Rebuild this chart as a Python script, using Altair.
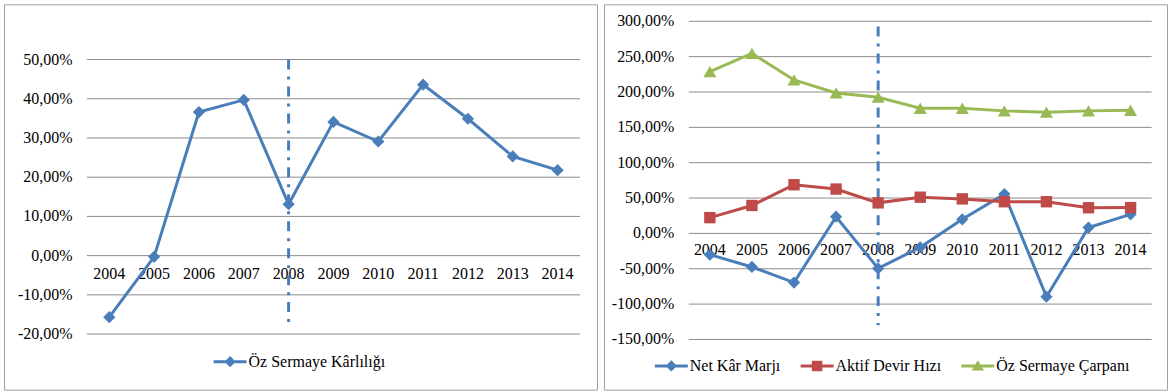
import altair as alt
import pandas as pd

years = list(range(2004, 2015))

# Left panel
oz_karlilik = [-15.7, -0.3, 36.6, 39.7, 13.1, 34.1, 29.1, 43.6, 34.9, 25.3, 21.8]

# Right panel
net_kar_marji = [-30.1, -47.5, -69.5, 23.6, -49.5, -19.7, 20.0, 55.6, -89.5, 8.3, 27.0]
aktif_devir = [22.3, 39.5, 68.8, 62.7, 43.2, 51.2, 48.8, 44.8, 44.8, 36.3, 36.5]
oz_carpan = [228.8, 254.7, 217.0, 198.7, 192.6, 177.0, 177.0, 173.3, 171.4, 173.3, 174.2]

left_ticks = [-20, -10, 0, 10, 20, 30, 40, 50]
right_ticks = [-150, -100, -50, 0, 50, 100, 150, 200, 250, 300]

FONT = "Liberation Serif"
BLUE = "#4A7EBB"
RED = "#BE4B48"
GREEN = "#98B954"
GRID = "#8C8C8C"

LINE_PATH = "M-1,-0.09L1,-0.09L1,0.09L-1,0.09Z"
P_DIAMOND = LINE_PATH + "M0,-0.34L0.34,0L0,0.34L-0.34,0Z"
P_SQUARE = LINE_PATH + "M-0.32,-0.32L0.32,-0.32L0.32,0.32L-0.32,0.32Z"
P_TRI = LINE_PATH + "M0,-0.34L0.38,0.28L-0.38,0.28Z"


def fmt(v):
    return f"{v:.2f}".replace(".", ",") + "%"


def make_panel(series, yticks, ydomain, yrange, xrange, ylab_x, xlab_dy, dash, W, H, lx, ly):
    x = alt.X("year:Q", scale=alt.Scale(domain=[2003.5, 2014.5], range=xrange, nice=False, zero=False), axis=None)
    yscale = alt.Scale(domain=ydomain, range=yrange, nice=False, zero=False)

    grid_df = pd.DataFrame({"v": yticks, "label": [fmt(v) for v in yticks]})
    grid = alt.Chart(grid_df).mark_rule(color=GRID, strokeWidth=1).encode(
        y=alt.Y("v:Q", scale=yscale, axis=None),
        x=alt.value(xrange[0]), x2=alt.value(xrange[1]))
    ylabels = alt.Chart(grid_df).mark_text(
        align="right", baseline="middle", font=FONT, fontSize=16, color="black").encode(
        y=alt.Y("v:Q", scale=yscale, axis=None), x=alt.value(ylab_x), text="label:N")

    xl_df = pd.DataFrame({"year": years, "zero": [0] * len(years), "label": [str(y) for y in years]})
    xlabels = alt.Chart(xl_df).mark_text(
        align="center", baseline="middle", dy=xlab_dy, font=FONT, fontSize=16, color="black").encode(
        x=x, y=alt.Y("zero:Q", scale=yscale, axis=None), text="label:N")

    dash_df = pd.DataFrame({"year": [2008], "top": [dash[0]], "bottom": [dash[1]]})
    dashrule = alt.Chart(dash_df).mark_rule(color=BLUE, strokeWidth=3, strokeDash=[10, 7, 3, 7]).encode(
        x=x, y=alt.Y("top:Q", scale=yscale, axis=None), y2="bottom:Q")

    layers = [grid, ylabels, xlabels, dashrule]
    names, colors, paths = [], [], []
    for name, vals, c, sh, sz, p in series:
        df = pd.DataFrame({"year": years, "value": vals})
        base = alt.Chart(df).encode(x=x, y=alt.Y("value:Q", scale=yscale, axis=None))
        layers.append(base.mark_line(color=c, strokeWidth=3))
        layers.append(base.mark_point(shape=sh, filled=True, size=sz, color=c, opacity=1, strokeWidth=0))
        names.append(name)
        colors.append(c)
        paths.append(p)

    legend = alt.Legend(
        orient="none", legendX=lx, legendY=ly, direction="horizontal", title=None,
        labelFont=FONT, labelFontSize=16, labelColor="black", symbolSize=1089,
        symbolStrokeWidth=0, symbolOpacity=1, labelOffset=2, columnPadding=20, padding=0,
        columns=len(names))
    leg_df = pd.DataFrame({"series": names})
    leg = alt.Chart(leg_df).transform_filter("false").mark_point(filled=True, opacity=1).encode(
        color=alt.Color("series:N", scale=alt.Scale(domain=names, range=colors), legend=legend),
        shape=alt.Shape("series:N", scale=alt.Scale(domain=names, range=paths), legend=legend))
    layers.append(leg)
    return alt.layer(*layers).properties(width=W, height=H)


left = make_panel(
    [("Öz Sermaye Kârlılığı", oz_karlilik, BLUE, "diamond", 150, P_DIAMOND)],
    left_ticks, [-20, 50], [330.3, 55.3], [83, 577], 68.6, 18, (50, -17.8),
    594, 386, 210, 341.5)

right = make_panel(
    [("Net Kâr Marjı", net_kar_marji, BLUE, "diamond", 150, P_DIAMOND),
     ("Aktif Devir Hızı", aktif_devir, RED, "square", 130, P_SQUARE),
     ("Öz Sermaye Çarpanı", oz_carpan, GREEN, "triangle-up", 170, P_TRI)],
    right_ticks, [-150, 300], [335.7, 17], [85, 548.6], 70.5, 17, (292.5, -130),
    564, 386, 51, 345.5)

chart = alt.hconcat(left, right, spacing=5).resolve_scale(
    color="independent", shape="independent"
).resolve_legend(
    color="independent", shape="independent"
).properties(
    padding={"left": 3, "top": 3, "right": 0, "bottom": 0},
    background="white",
).configure_view(stroke="#A0A0A0", strokeWidth=1)

chart.save("out.html", embed_options={"renderer": "svg", "actions": False})
